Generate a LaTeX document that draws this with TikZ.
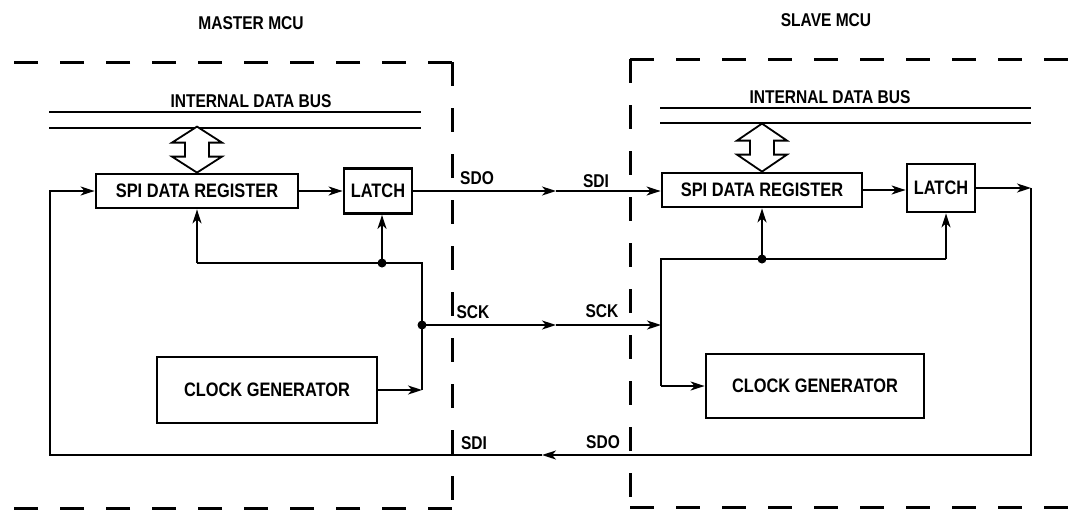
\documentclass[tikz,border=0pt]{standalone}
\usepackage{fontspec}
\setmainfont{Liberation Sans}[FakeStretch=0.84]
\usetikzlibrary{arrows.meta,calc}
\begin{document}
\begin{tikzpicture}[x=1pt,y=-1pt,
  box/.style={draw,line width=2.8pt,inner sep=0pt,font=\fontsize{19.5}{22}\selectfont\bfseries},
  conn/.style={line width=1.8pt},
  arr/.style={conn,-{Stealth[length=14pt,width=9pt,inset=4pt]}},
  dashline/.style={line width=3pt,dash pattern=on 24pt off 22pt},
  busline/.style={line width=1.5pt},
  lbl/.style={font=\fontsize{18.5}{20}\selectfont\bfseries,inner sep=0pt},
  title/.style={font=\fontsize{18.5}{20}\selectfont\bfseries,inner sep=0pt},
  hollow/.style={line width=1.8pt,fill=white},
  dot/.style={circle,fill,inner sep=0pt,minimum size=9pt}]
\useasboundingbox (0,0) rectangle (1084,512);

% ---- titles
\node[title] (mtitle) at (251,23) {MASTER MCU};
\node[title] (stitle) at (826,20) {SLAVE MCU};

% ---- dashed boundaries
\draw[dashline] (452,62) -- (10,62);
\draw[dashline] (452,62) -- (452,508);
\draw[dashline] (452,508) -- (10,508);
\draw[dashline] (630,59) -- (1084,59);
\draw[dashline] (630,59) -- (630,507);
\draw[dashline] (630,507) -- (1084,507);

% ---- internal data buses
\node[title] (mbus) at (251,101) {INTERNAL DATA BUS};
\draw[busline] (49,112) -- (421,112);
\draw[busline] (49,128) -- (421,128);
\node[title] (sbus) at (830,97) {INTERNAL DATA BUS};
\draw[busline] (660,108) -- (1031,108);
\draw[busline] (660,123) -- (1031,123);

% ---- blocks
\node[box,minimum width=202pt,minimum height=34pt] (mspi) at (197,191) {SPI DATA REGISTER};
\node[box,minimum width=68pt,minimum height=45pt] (mlatch) at (378,191) {LATCH};
\node[box,minimum width=220pt,minimum height=66pt] (mclk) at (267,390) {CLOCK GENERATOR};

\node[box,minimum width=200pt,minimum height=34pt] (sspi) at (762,190) {SPI DATA REGISTER};
\node[box,minimum width=68pt,minimum height=48pt] (slatch) at (941,188) {LATCH};
\node[box,minimum width=218pt,minimum height=64pt] (sclk) at (815,386) {CLOCK GENERATOR};

% ---- hollow bus arrows
\draw[hollow,shift={(mspi.north)}] (0,0) -- (25,-16) -- (12,-16) -- (12,-30) -- (25,-30) -- (0,-46)
  -- (-25,-30) -- (-12,-30) -- (-12,-16) -- (-25,-16) -- cycle;
\draw[hollow,shift={(sspi.north)}] (0,0) -- (25,-17) -- (12,-17) -- (12,-31) -- (25,-31) -- (0,-48)
  -- (-25,-31) -- (-12,-31) -- (-12,-17) -- (-25,-17) -- cycle;

% ---- coordinates
\coordinate (mxl) at (50,455);
\coordinate (mtop) at (422,263);
\coordinate (mck) at (422,325);
\coordinate (mdot) at (382,263);
\coordinate (dmid) at (556,191);
\coordinate (cmid) at (556,325);
\coordinate (bmid) at (542,455);
\coordinate (stop) at (661,259);
\coordinate (sck) at (661,325);
\coordinate (slx) at (946,259);
\coordinate (sxr) at (1031,455);

% ---- master internal connections
\draw[arr] (mspi.east) -- (mspi.east -| mlatch.west);
\draw[arr] (mclk.east) -- (mclk.east -| mck);
\draw[conn] (mclk.east -| mck) -- (mtop) -- (mspi.south |- mtop);
\draw[arr] (mspi.south |- mtop) -- (mspi.south);
\draw[arr] (mdot) -- (mdot |- mlatch.south);
\node[dot] (mdotn) at (mdot) {};
\node[dot] (mckn) at (mck) {};

% ---- slave internal connections
\draw[arr] (sspi.east) -- (sspi.east -| slatch.west);
\draw[conn] (slx) -- (stop) -- (stop |- sclk.west);
\draw[arr] (stop |- sclk.west) -- (sclk.west);
\draw[arr] (slx) -- (slx |- slatch.south);
\draw[arr] (sspi.south |- stop) -- (sspi.south);
\node[dot] (sdotn) at (sspi.south |- stop) {};

% ---- interconnections
\draw[arr] (mlatch.east |- dmid) -- (dmid);
\draw[arr] (dmid) -- (sspi.west |- dmid);
\draw[arr] (mck) -- (cmid);
\draw[arr] (cmid) -- (sck);
\draw[arr] (slatch.east) -- (slatch.east -| sxr);
\draw[arr] (slatch.east -| sxr) -- (sxr) -- (bmid);
\draw[arr] (bmid) -- (mxl) -- (mxl |- mspi.west) -- (mspi.west);

% ---- signal labels
\node[lbl] (lsdo) at (477,178) {SDO};
\node[lbl] (lsdi) at (596,181) {SDI};
\node[lbl] (lsck1) at (473,312) {SCK};
\node[lbl] (lsck2) at (602,311) {SCK};
\node[lbl] (lsdi2) at (474,443) {SDI};
\node[lbl] (lsdo2) at (603,442) {SDO};
\end{tikzpicture}
\end{document}
